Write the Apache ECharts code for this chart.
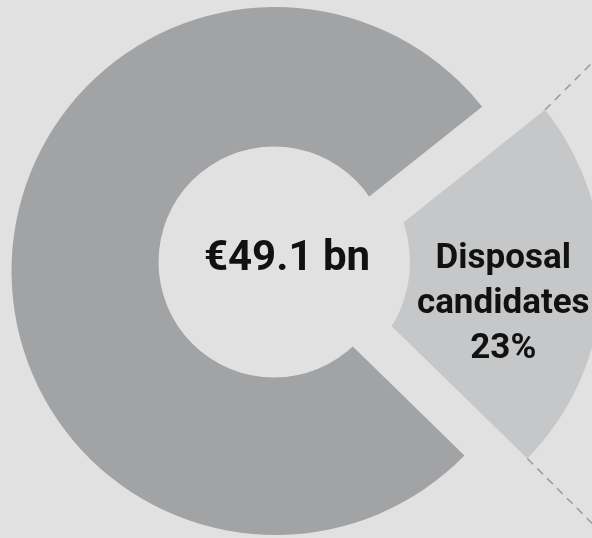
<!DOCTYPE html>
<html>
<head>
<meta charset="utf-8">
<script src="https://cdn.jsdelivr.net/npm/echarts@6/dist/echarts.min.js"></script>
<style>
html,body{margin:0;padding:0;background:#e1e1e1;}
#c{width:592px;height:538px;}
</style>
</head>
<body>
<div id="c"></div>
<script>
// ---- data ----
const sliceNames = ['Disposal candidates', 'Rest of portfolio'];
const sliceValues = [23, 77];
const totalLabel = '€49.1 bn';

// ---- styling / layout ----
const BG = '#e1e1e1', DARK = '#a2a3a5', LIGHT = '#c6c7c9', INK = '#111111';
const CX = 275.5, CY = 271, R = 264;
const START = 38.5;      // start angle of first slice (deg)
const OFFSET = 63;       // explode distance of the disposal slice
const HOLE = {cx: 274, cy: 262, r: 115.5};
const INNER_CUT = {cx: 288, cy: 262, r: 122};
const FONT = 'Roboto';

const chart = echarts.init(document.getElementById('c'), null, {renderer: 'canvas'});

// geometry of the exploded slice for the dashed connector lines
const total = sliceValues.reduce((a, b) => a + b, 0);
const span = sliceValues[0] / total * 360;
const mid = (START - span / 2) * Math.PI / 180;
const ax = CX + OFFSET * Math.cos(mid), ay = CY - OFFSET * Math.sin(mid);
function corner(deg) {
  const a = deg * Math.PI / 180;
  return [ax + R * Math.cos(a), ay - R * Math.sin(a)];
}
const up = corner(START), lo = corner(START - span);
const L = 140, d45 = Math.SQRT1_2;
const upEnd = [up[0] + L * d45, up[1] - L * d45];
const loEnd = [lo[0] + L * d45, lo[1] + L * d45];

const transparent = 'rgba(0,0,0,0)';

chart.setOption({
  backgroundColor: BG,
  animation: false,
  series: [
    {
      type: 'pie',
      z: 1,
      center: [CX, CY],
      radius: [0, R],
      startAngle: START,
      clockwise: true,
      silent: true,
      selectedMode: 'single',
      selectedOffset: OFFSET,
      label: {
        show: true,
        position: 'inside',
        formatter: p => p.name.replace(' ', '\n') + '\n' + p.percent + '%',
        fontFamily: FONT,
        fontWeight: 'bold',
        fontSize: 35,
        lineHeight: 45,
        color: INK,
        align: 'center'
      },
      labelLine: {show: false},
      labelLayout: {dx: 30, dy: 23},
      data: [
        {name: sliceNames[0], value: sliceValues[0], selected: true,
         itemStyle: {color: LIGHT, borderWidth: 0},
         select: {itemStyle: {color: LIGHT, borderWidth: 0}}},
        {name: sliceNames[1], value: sliceValues[1],
         itemStyle: {color: transparent, borderWidth: 0},
         label: {show: false}}
      ]
    },
    {
      type: 'pie',
      z: 5,
      center: [CX, CY],
      radius: [0, R],
      startAngle: START,
      clockwise: true,
      silent: true,
      selectedMode: false,
      label: {show: false},
      labelLine: {show: false},
      data: [
        {name: sliceNames[0], value: sliceValues[0], itemStyle: {color: transparent, borderWidth: 0}},
        {name: sliceNames[1], value: sliceValues[1], itemStyle: {color: DARK, borderWidth: 0}}
      ]
    }
  ],
  graphic: [
    {type: 'circle', z: 3, silent: true,
     shape: {cx: INNER_CUT.cx, cy: INNER_CUT.cy, r: INNER_CUT.r},
     style: {fill: BG}},
    {type: 'circle', z: 7, silent: true,
     shape: {cx: HOLE.cx, cy: HOLE.cy, r: HOLE.r},
     style: {fill: BG}},
    {type: 'line', z: 8, silent: true,
     shape: {x1: up[0], y1: up[1], x2: upEnd[0], y2: upEnd[1]},
     style: {stroke: '#999999', lineWidth: 1.5, lineDash: [8, 6]}},
    {type: 'line', z: 8, silent: true,
     shape: {x1: lo[0], y1: lo[1], x2: loEnd[0], y2: loEnd[1]},
     style: {stroke: '#999999', lineWidth: 1.5, lineDash: [8, 6]}},
    {type: 'text', z: 10, silent: true,
     x: 287, y: 259,
     style: {text: totalLabel, fontFamily: FONT, fontWeight: 'bold', fontSize: 42,
             fill: INK, align: 'center', verticalAlign: 'middle'}}
  ]
});
</script>
</body>
</html>
